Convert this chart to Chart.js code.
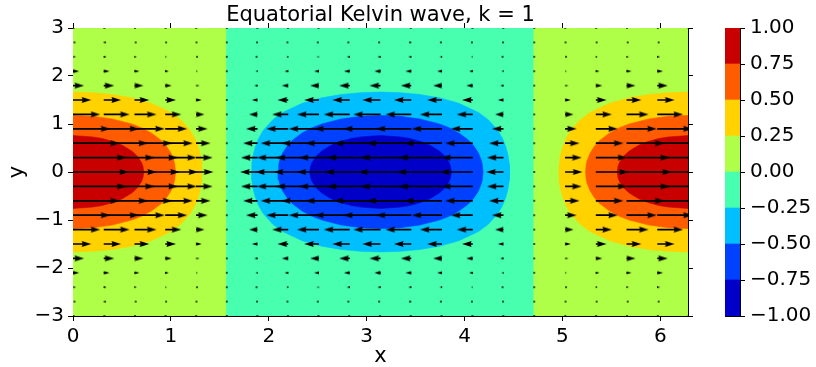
<!DOCTYPE html>
<html>
<head>
<meta charset="utf-8">
<script src="https://cdn.jsdelivr.net/npm/chart.js@4"></script>
<style>
  body { margin: 0; background: #fff; }
  #wrap { position: relative; width: 816px; height: 367px; }
  #main { position: absolute; left: 0; top: 0; }
  #cbar { position: absolute; left: 700px; top: 0; }
</style>
</head>
<body>
<div id="wrap">
  <canvas id="main" width="816" height="367"></canvas>
  <canvas id="cbar" width="116" height="367"></canvas>
</div>
<script>
// ---- data ----
const chartTitle = 'Equatorial Kelvin wave, k = 1';
const xTicks = [0, 1, 2, 3, 4, 5, 6];
const yTicks = [-3, -2, -1, 0, 1, 2, 3];
const cbTicks = [-1, -0.75, -0.5, -0.25, 0, 0.25, 0.5, 0.75, 1];
// jet colours of the 8 filled bands, lowest first
const levelColors = ['#0000c8', '#0040ff', '#00bfff', '#48ffaf', '#afff48', '#ffd200', '#ff5c00', '#c80000'];

// background bands between the zero lines (x) and which band colour they take
const bandEdges = [0, 1.571, 4.712, 6.283];
const bandLevel = [4, 3, 4];

// the three lobes: centre x and sign
const lobeCenters = [0, 3.142, 6.283];
const lobeSign = [1, -1, 1];
// upper half of each contour, [distance from lobe centre, y]
const contour25 = [[0, 1.665], [0.2, 1.653], [0.4, 1.615], [0.6, 1.546], [0.8, 1.432], [1.0, 1.241], [1.1, 1.091],
  [1.2, 0.862], [1.25, 0.681], [1.28, 0.523], [1.30, 0.368], [1.31, 0.249], [1.315, 0.157], [1.318, 0]];
const contour50 = [[0, 1.177], [0.2, 1.160], [0.4, 1.105], [0.6, 1.001], [0.7, 0.922], [0.8, 0.815], [0.9, 0.660],
  [0.95, 0.550], [1.0, 0.394], [1.03, 0.241], [1.04, 0.157], [1.047, 0]];
const contour75 = [[0, 0.759], [0.2, 0.731], [0.3, 0.696], [0.4, 0.641], [0.5, 0.561], [0.6, 0.437], [0.65, 0.346],
  [0.7, 0.198], [0.715, 0.116], [0.723, 0]];

// quiver grid: column positions and u along the equator, row positions and row amplitude
const colX = [0, 0.314, 0.628, 0.942, 1.257, 1.571, 1.885, 2.199, 2.513, 2.827, 3.142,
  3.456, 3.770, 4.084, 4.398, 4.712, 5.027, 5.341, 5.655, 5.969, 6.283];
const colU = [1.00, 0.95, 0.81, 0.59, 0.31, 0.00, -0.31, -0.59, -0.81, -0.95, -1.00,
  -0.95, -0.81, -0.59, -0.31, 0.00, 0.31, 0.59, 0.81, 0.95, 1.00];
const rowY = [-3.0, -2.7, -2.4, -2.1, -1.8, -1.5, -1.2, -0.9, -0.6, -0.3, 0,
  0.3, 0.6, 0.9, 1.2, 1.5, 1.8, 2.1, 2.4, 2.7, 3.0];
const rowAmp = [0.011, 0.026, 0.056, 0.110, 0.198, 0.325, 0.487, 0.667, 0.835, 0.956, 1.000,
  0.956, 0.835, 0.667, 0.487, 0.325, 0.198, 0.110, 0.056, 0.026, 0.011];

const X_MAX = 6.283;
const ARROW_S = 0.572;  // x data units per unit of u
const ARROW_PX = 56;    // the same length in pixels, used for head sizes
const HEAD_L = 9.5, HEAD_W = 6;
const FONT = 'DejaVu Sans';

Chart.defaults.font.family = FONT;
Chart.defaults.color = '#000';

function minus(v) { return v < 0 ? '\u2212' + Math.abs(v) : String(v); }

// closed polygon from the upper half of a contour
function lobePolygon(half, cx) {
  const pts = [];
  for (let i = half.length - 1; i >= 0; i--) pts.push({x: cx - half[i][0], y: half[i][1]});
  for (let i = 1; i < half.length; i++) pts.push({x: cx + half[i][0], y: half[i][1]});
  for (let i = half.length - 2; i >= 0; i--) pts.push({x: cx + half[i][0], y: -half[i][1]});
  for (let i = 1; i < half.length; i++) pts.push({x: cx - half[i][0], y: -half[i][1]});
  return pts;
}

function fillLayer(points, color) {
  return {
    type: 'line', data: points, fill: 'shape',
    backgroundColor: color, borderColor: color, borderWidth: 0.6,
    pointRadius: 0, tension: 0, clip: 0, xAxisID: 'x', yAxisID: 'y'
  };
}

const datasets = [];
bandLevel.forEach((lv, i) => {
  const a = bandEdges[i], b = bandEdges[i + 1];
  datasets.push(fillLayer([{x: a, y: -3}, {x: b, y: -3}, {x: b, y: 3}, {x: a, y: 3}, {x: a, y: -3}], levelColors[lv]));
});
[contour25, contour50, contour75].forEach((half, k) => {
  lobeCenters.forEach((cx, i) => {
    const idx = lobeSign[i] > 0 ? 5 + k : 2 - k;
    datasets.push(fillLayer(lobePolygon(half, cx), levelColors[idx]));
  });
});

// arrows
const headCache = {};
function headLen(u) { return Math.max(1.7, Math.min(HEAD_L, Math.abs(u) * ARROW_PX)); }
function headImage(u) {
  const hl = headLen(u);
  const hw = Math.max(1.7, HEAD_W * hl / HEAD_L);
  const dir = u < 0 ? -1 : 1;
  const dot = Math.abs(u) * ARROW_PX < 1.7;
  const key = dir + ':' + hl.toFixed(1) + (dot ? 'd' : '');
  if (headCache[key]) return headCache[key];
  const c = document.createElement('canvas');
  const w = 2 * Math.ceil(hl) + 2, h = 2 * Math.ceil(hw / 2) + 2;
  c.width = w; c.height = h;
  const g = c.getContext('2d');
  const cx = w / 2, cy = h / 2;
  g.fillStyle = '#000';
  g.beginPath();
  if (dot) {
    g.arc(cx, cy, 0.9, 0, Math.PI * 2);
  } else {
    g.moveTo(cx, cy);
    g.lineTo(cx - dir * hl, cy - hw / 2);
    g.lineTo(cx - dir * 0.9 * hl, cy);
    g.lineTo(cx - dir * hl, cy + hw / 2);
  }
  g.closePath();
  g.fill();
  headCache[key] = c;
  return c;
}

const shafts = [], heads = [];
rowY.forEach((y, j) => {
  colX.forEach((x, i) => {
    const u = colU[i] * rowAmp[j];
    const hl = headLen(u);
    const shaftPx = Math.max(0, Math.abs(u) * ARROW_PX - 0.9 * hl + 0.5);
    shafts.push({x: x, y: y}, {x: x + Math.sign(u) * shaftPx * ARROW_S / ARROW_PX, y: y}, {x: x, y: null});
    heads.push({x: x + u * ARROW_S, y: y, u: u});
  });
});

datasets.push({
  type: 'line', data: shafts, borderColor: '#000', borderWidth: 1.7, borderCapStyle: 'butt',
  pointRadius: 0, fill: false, spanGaps: false, tension: 0, clip: 0, xAxisID: 'x', yAxisID: 'y'
});
datasets.push({
  type: 'line', data: heads, showLine: false, fill: false, pointRadius: 4, clip: 0,
  pointStyle: ctx => (ctx.raw ? headImage(ctx.raw.u) : 'circle'),
  xAxisID: 'x', yAxisID: 'y'
});
// first dataset at the bottom
datasets.forEach((d, i) => { d.order = datasets.length - i; });

const tickFont = {family: FONT, size: 20};
function axis(pos, min, max, list, labels, size) {
  return {
    type: 'linear', position: pos, min: min, max: max,
    afterBuildTicks: s => { s.ticks = list.map(v => ({value: v})); },
    afterFit: s => { if (pos === 'left' || pos === 'right') s.width = size; else s.height = size; },
    ticks: {display: labels, font: tickFont, color: '#000', padding: 4, callback: v => minus(v)},
    grid: {drawOnChartArea: false, tickLength: 5, tickWidth: 1, tickColor: '#000'},
    border: {display: true, color: '#000', width: 1}
  };
}
const xAxis = axis('bottom', 0, X_MAX, xTicks, true, 51);
xAxis.title = {display: true, text: 'x', color: '#000', font: {family: FONT, size: 21, lineHeight: 1}, padding: {top: 0, bottom: 0}};
const yAxis = axis('left', -3, 3, yTicks, true, 73);
yAxis.title = {display: true, text: 'y', color: '#000', font: {family: FONT, size: 21, lineHeight: 1}, padding: {top: 7, bottom: 0}};
const xTop = axis('top', 0, X_MAX, xTicks, false, 28);
xTop.title = {display: true, text: chartTitle, color: '#000', font: {family: FONT, size: 21, lineHeight: 1}, padding: {top: 5.5, bottom: 0}};
const yRight = axis('right', -3, 3, yTicks, false, 128);

new Chart(document.getElementById('main'), {
  type: 'line',
  data: {datasets: datasets},
  options: {
    responsive: false, animation: false, events: [],
    layout: {padding: 0},
    plugins: {legend: {display: false}, tooltip: {enabled: false}},
    scales: {x: xAxis, y: yAxis, x2: xTop, y2: yRight}
  }
});

// colour bar
const hiddenEdge = (pos, size, extra) => Object.assign({
  position: pos,
  afterFit: s => { if (pos === 'left' || pos === 'right') s.width = size; else s.height = size; },
  ticks: {display: false},
  grid: {display: false},
  border: {display: true, color: '#000', width: 1}
}, extra);

new Chart(document.getElementById('cbar'), {
  type: 'bar',
  data: {
    labels: [''],
    datasets: levelColors.map((c, i) => ({
      data: [[cbTicks[i], cbTicks[i + 1]]], backgroundColor: c, borderWidth: 0,
      barPercentage: 1, categoryPercentage: 1, grouped: false
    }))
  },
  options: {
    responsive: false, animation: false, events: [],
    plugins: {legend: {display: false}, tooltip: {enabled: false}},
    scales: {
      x: hiddenEdge('bottom', 51, {type: 'category'}),
      xt: hiddenEdge('top', 28, {type: 'category', axis: 'x'}),
      yl: hiddenEdge('left', 25, {type: 'linear', axis: 'y', min: -1, max: 1}),
      y: {
        type: 'linear', position: 'right', min: -1, max: 1,
        afterBuildTicks: s => { s.ticks = cbTicks.map(v => ({value: v})); },
        afterFit: s => { s.width = 76; },
        ticks: {font: tickFont, color: '#000', padding: 5,
          callback: v => (v < 0 ? '\u2212' : '') + Math.abs(v).toFixed(2)},
        grid: {drawOnChartArea: false, tickLength: 5, tickWidth: 1, tickColor: '#000'},
        border: {display: true, color: '#000', width: 1}
      }
    }
  }
});
</script>
</body>
</html>
